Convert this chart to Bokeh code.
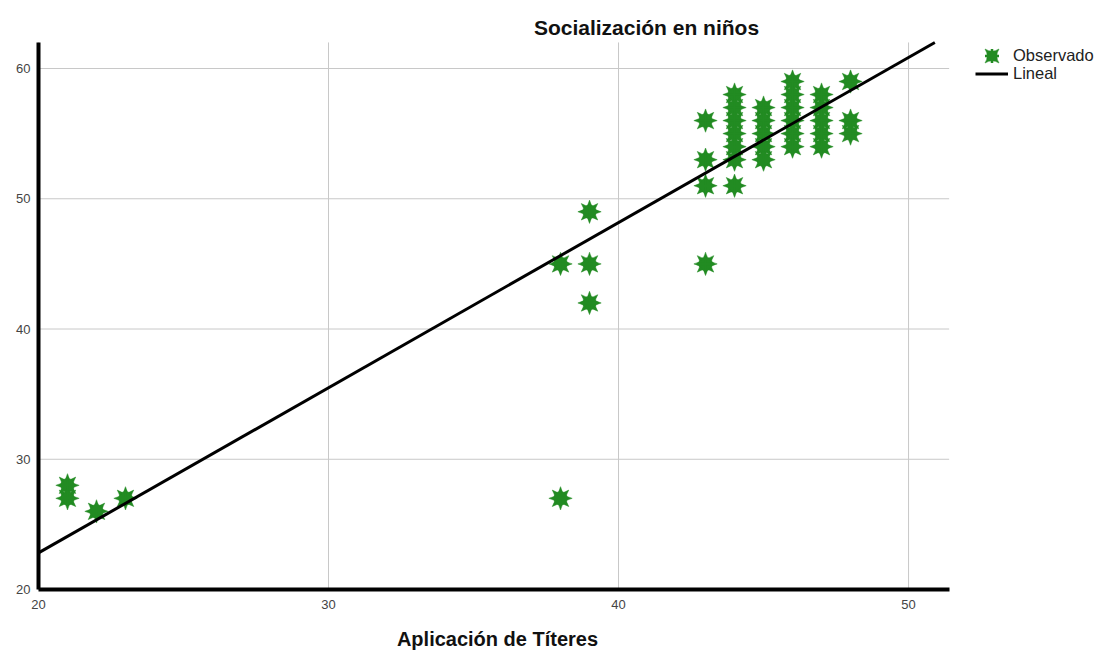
import math
from bokeh.plotting import figure
from bokeh.models import Legend, LegendItem, Label, FixedTicker, Range1d
from bokeh.embed import file_html
from bokeh.resources import INLINE

# ---------------- data ----------------
title_text = "Socialización en niños"
x_label_text = "Aplicación de Títeres"
legend_obs = "Observado"
legend_fit = "Lineal"

x_ticks = [20, 30, 40, 50]
y_ticks = [20, 30, 40, 50, 60]
x_axis_min, x_axis_max = 20, 51.4
y_axis_min, y_axis_max = 20, 62

aplicacion = [21, 21, 22, 23, 38, 38, 39, 39, 39,
              43, 43, 43, 43,
              44, 44, 44, 44, 44, 44, 44,
              45, 45, 45, 45, 45,
              46, 46, 46, 46, 46, 46,
              47, 47, 47, 47, 47,
              48, 48, 48]
socializacion = [28, 27, 26, 27, 27, 45, 49, 45, 42,
                 45, 56, 53, 51,
                 58, 57, 56, 55, 54, 53, 51,
                 57, 56, 55, 54, 53,
                 59, 58, 57, 56, 55, 54,
                 58, 57, 56, 55, 54,
                 59, 56, 55]

fit_intercept = -2.55
fit_slope = 1.268
fit_x = [x_axis_min, (y_axis_max - fit_intercept) / fit_slope]
fit_y = [fit_intercept + fit_slope * v for v in fit_x]

GREEN = "#228b22"
FONT = "Liberation Sans"
W, H = 1107, 652

# ---------------- figure (frame = whole canvas, axes at fixed locations) ----------------
p = figure(width=W, height=H,
           x_range=Range1d(18.69, 56.86), y_range=Range1d(15.165, 65.22),
           output_backend="svg", toolbar_location=None,
           min_border_left=0, min_border_right=0,
           min_border_top=0, min_border_bottom=0)
p.outline_line_color = None
p.background_fill_color = "white"
p.border_fill_color = "white"
p.grid.visible = False

# grid lines limited to the axes' extent
p.segment(x0=x_ticks, y0=[y_axis_min] * len(x_ticks), x1=x_ticks, y1=[y_axis_max] * len(x_ticks),
          line_color="#c8c8c8", line_width=1)
p.segment(x0=[x_axis_min] * len(y_ticks), y0=y_ticks, x1=[x_axis_max] * len(y_ticks), y1=y_ticks,
          line_color="#c8c8c8", line_width=1)

xa = p.xaxis[0]
ya = p.yaxis[0]
xa.fixed_location = y_axis_min
ya.fixed_location = x_axis_min
xa.bounds = (x_axis_min, x_axis_max)
ya.bounds = (y_axis_min, y_axis_max)
for ax, ticks, standoff in ((xa, x_ticks, 10), (ya, y_ticks, 8)):
    ax.ticker = FixedTicker(ticks=ticks)
    ax.axis_line_width = 4
    ax.axis_line_color = "black"
    ax.major_tick_in = 0
    ax.major_tick_out = 0
    ax.minor_tick_in = 0
    ax.minor_tick_out = 0
    ax.major_label_text_font = FONT
    ax.major_label_text_font_size = "13px"
    ax.major_label_text_color = "#444444"
    ax.major_label_standoff = standoff

# observed points: 8-pointed stars from two pinched squares (+ thin cross for the legend glyph)
s1 = p.scatter(aplicacion, socializacion, marker="square_pin", size=16.5,
               fill_color=GREEN, line_color=GREEN, line_width=0.5)
s2 = p.scatter(aplicacion, socializacion, marker="square_pin", size=16.5,
               angle=math.pi / 4, fill_color=GREEN, line_color=GREEN, line_width=0.5)
s3 = p.scatter(aplicacion, socializacion, marker="cross", size=16,
               line_color=GREEN, line_width=2.5)

fit = p.line(fit_x, fit_y, line_width=3, line_color="black")

leg_a = Legend(items=[LegendItem(label=legend_obs, renderers=[s1, s3])],
               location=(974, H - 72.5), glyph_width=35, glyph_height=35,
               label_height=35, label_standoff=4, padding=0, margin=0, spacing=0,
               border_line_color=None, background_fill_alpha=0,
               label_text_font=FONT, label_text_font_size="16.5px",
               label_text_color="#222222")
leg_b = Legend(items=[LegendItem(label=legend_fit, renderers=[fit])],
               location=(975, H - 82.5), glyph_width=33, glyph_height=17,
               label_height=17, label_standoff=5, padding=0, margin=0, spacing=0,
               border_line_color=None, background_fill_alpha=0,
               label_text_font=FONT, label_text_font_size="16.5px",
               label_text_color="#222222")
p.add_layout(leg_a)
p.add_layout(leg_b)

title_lbl = Label(x=646, y=H - 27, x_units="screen", y_units="screen", text=title_text,
                  text_font=FONT, text_font_size="21px", text_font_style="bold",
                  text_align="center", text_baseline="middle", text_color="#111111")
xlab = Label(x=497, y=H - 638, x_units="screen", y_units="screen", text=x_label_text,
             text_font=FONT, text_font_size="20px", text_font_style="bold",
             text_align="center", text_baseline="alphabetic", text_color="#111111")
p.add_layout(title_lbl)
p.add_layout(xlab)

open("out.html", "w").write(file_html(p, INLINE))
